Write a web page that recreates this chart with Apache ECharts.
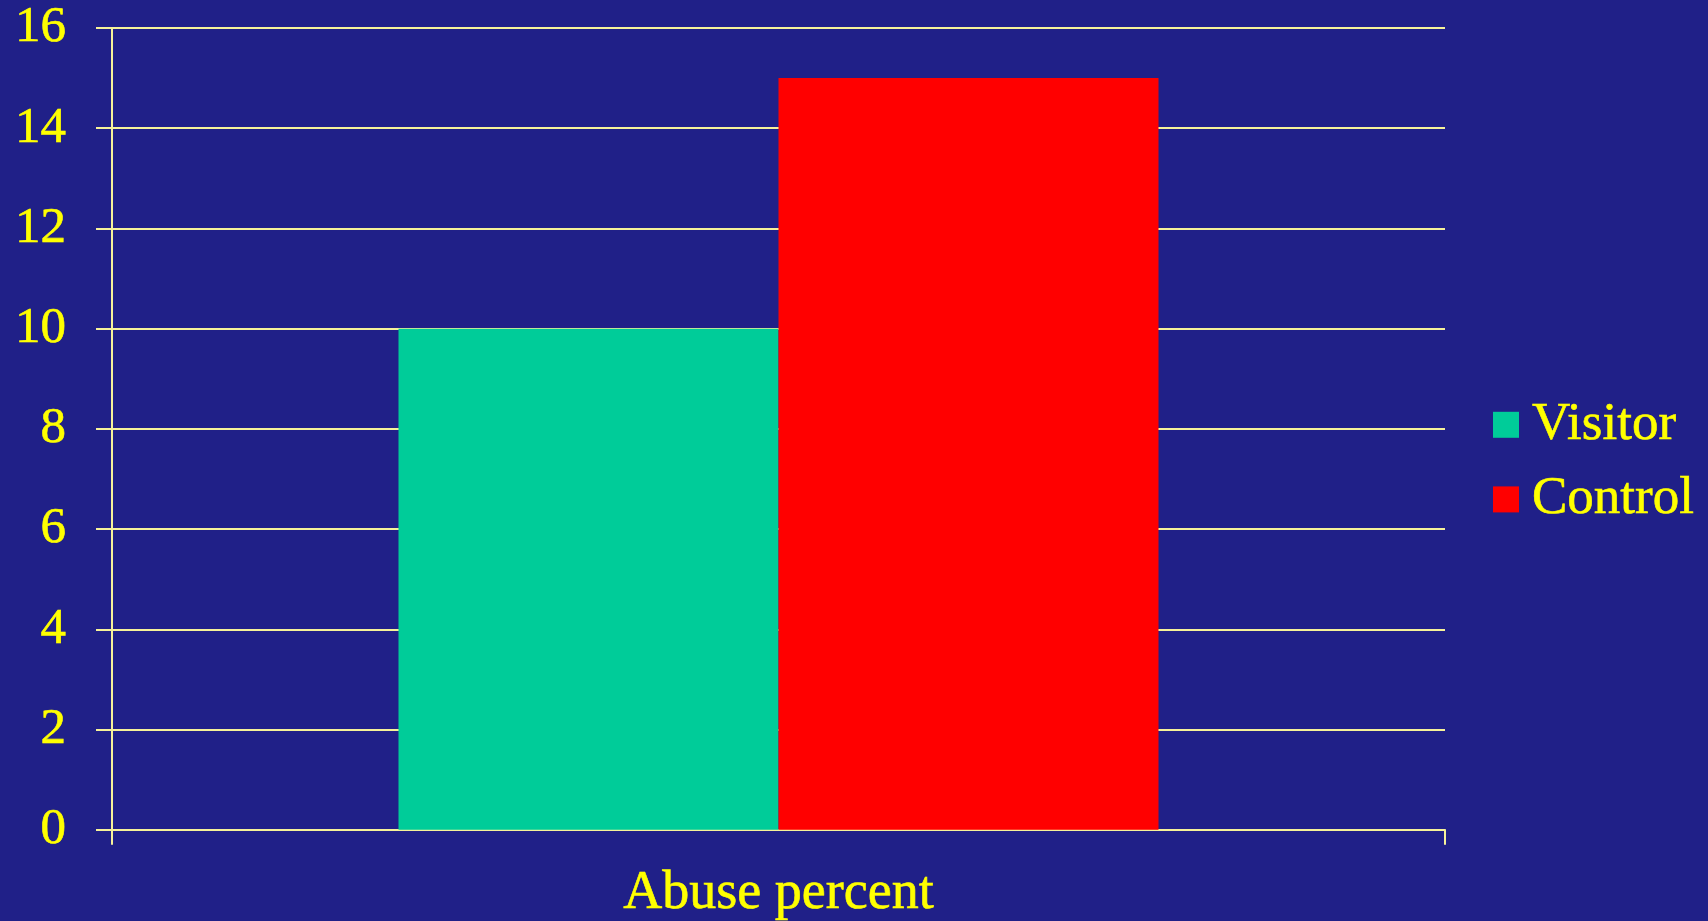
<!DOCTYPE html>
<html>
<head>
<meta charset="utf-8">
<style>
  html, body { margin: 0; padding: 0; background: #202088; }
  #chart { width: 1708px; height: 921px; }
</style>
<script src="https://cdn.jsdelivr.net/npm/echarts@6/dist/echarts.min.js"></script>
</head>
<body>
<div id="chart"></div>
<script>
// Abuse percentage: visitor group vs. control group
const categories = ['Abuse percent'];
const seriesNames = ['Visitor', 'Control'];
const visitorValues = [10];
const controlValues = [15];
const yTicks = { min: 0, max: 16, interval: 2 };

const textColor = '#ffff00';
const lineColor = '#f6f29a';
const fontFamily = '"Liberation Serif", "Times New Roman", serif';

const chart = echarts.init(document.getElementById('chart'), null, { renderer: 'canvas' });

chart.setOption({
  backgroundColor: '#202088',
  animation: false,
  textStyle: { fontFamily: fontFamily },
  grid: { left: 112, right: 263, top: 28, bottom: 91 },
  legend: {
    orient: 'vertical',
    left: 1493,
    top: 398,
    padding: 0,
    itemWidth: 26,
    itemHeight: 26,
    itemGap: 21,
    icon: 'rect',
    textStyle: {
      color: textColor, fontSize: 53, fontFamily: fontFamily, lineHeight: 50,
      padding: [0, 0, 0, 8], textBorderColor: textColor, textBorderWidth: 0.6
    },
    data: seriesNames
  },
  xAxis: {
    type: 'category',
    data: categories,
    axisLine: { lineStyle: { color: lineColor, width: 2 } },
    axisTick: { show: true, length: 15, lineStyle: { color: lineColor, width: 2 } },
    axisLabel: {
      color: textColor, fontSize: 54, fontFamily: fontFamily, margin: 37,
      textBorderColor: textColor, textBorderWidth: 0.6
    }
  },
  yAxis: {
    type: 'value',
    min: yTicks.min,
    max: yTicks.max,
    interval: yTicks.interval,
    axisLine: { show: true, lineStyle: { color: lineColor, width: 2 } },
    axisTick: { show: true, length: 16, lineStyle: { color: lineColor, width: 2 } },
    splitLine: { show: true, lineStyle: { color: lineColor, width: 2 } },
    axisLabel: {
      color: textColor, fontSize: 51, fontFamily: fontFamily, margin: 46,
      textBorderColor: textColor, textBorderWidth: 0.6
    }
  },
  series: [
    {
      name: seriesNames[0],
      type: 'bar',
      data: visitorValues,
      barWidth: 380,
      barGap: '0%',
      itemStyle: { color: '#00cc99' }
    },
    {
      name: seriesNames[1],
      type: 'bar',
      data: controlValues,
      barWidth: 380,
      barGap: '0%',
      itemStyle: { color: '#ff0000' }
    }
  ]
});
</script>
</body>
</html>
